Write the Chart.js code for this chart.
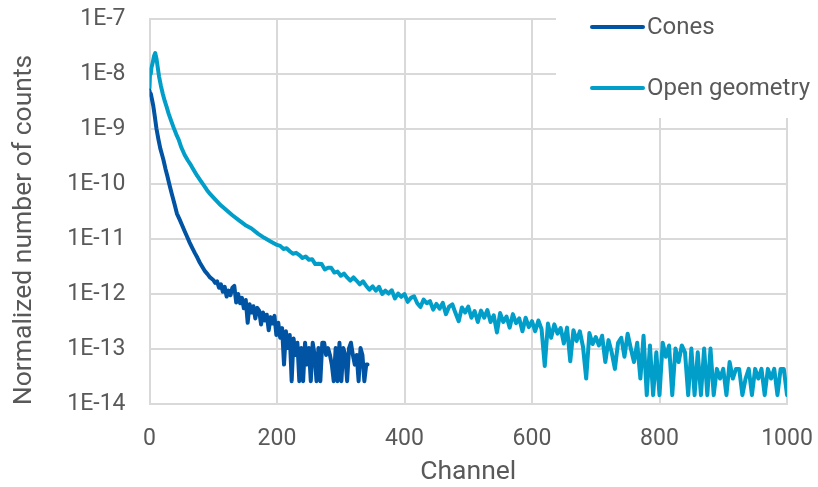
<!DOCTYPE html>
<html>
<head>
<meta charset="utf-8">
<script src="https://cdn.jsdelivr.net/npm/chart.js@4.4.1/dist/chart.umd.min.js"></script>
<style>
  html, body { margin: 0; padding: 0; background: #fff; }
  #wrap { width: 818px; height: 487px; }
</style>
</head>
<body>
<div id="wrap"><canvas id="countsChart" width="818" height="487"></canvas></div>
<script>
// Spectra, normalized counts per channel
const coneChannels = [
  0, 1, 2, 4, 6, 8, 11, 14, 17, 20, 22, 25, 28, 31, 35, 39, 43, 47, 51, 55,
  59, 63, 67, 71, 75, 79, 83, 87, 91, 95, 100, 103, 106, 109, 112, 115, 118, 121, 124, 127,
  130, 133, 136, 139, 142, 145, 148, 151, 154, 157, 160, 163, 166, 169, 172, 175, 178, 181, 184, 187,
  190, 193, 196, 199, 202, 205, 208, 211, 214, 217, 220, 223, 226, 229, 232, 235, 238, 241, 244, 247,
  250, 253, 256, 259, 262, 265, 268, 271, 274, 277, 280, 283, 286, 289, 292, 295, 298, 301, 304, 307,
  310, 313, 316, 319, 322, 325, 328, 331, 334, 337, 340, 342
];
const coneCounts = [
  5.0e-9, 4.2e-9, 4.4e-9, 3.4e-9, 2.6e-9, 1.8e-9, 1.0e-9, 6.5e-10, 4.4e-10, 3.3e-10,
  2.7e-10, 1.9e-10, 1.4e-10, 1.0e-10, 6.6e-11, 4.4e-11, 2.9e-11, 2.3e-11, 1.8e-11, 1.4e-11,
  1.1e-11, 8.6e-12, 6.9e-12, 5.6e-12, 4.6e-12, 3.7e-12, 3.1e-12, 2.6e-12, 2.3e-12, 2.0e-12,
  1.8e-12, 1.6e-12, 1.7e-12, 1.3e-12, 1.5e-12, 1.1e-12, 1.35e-12, 9.0e-13, 1.15e-12, 9.5e-13,
  1.3e-12, 1.4e-12, 7.0e-13, 1.0e-12, 6.8e-13, 8.5e-13, 5.5e-13, 7.8e-13, 3.0e-13, 6.5e-13,
  4.6e-13, 6.0e-13, 3.6e-13, 5.6e-13, 5.0e-13, 2.8e-13, 4.6e-13, 3.3e-13, 4.2e-13, 2.2e-13,
  3.8e-13, 2.9e-13, 4.0e-13, 1.8e-13, 3.0e-13, 1.6e-13, 2.4e-13, 5.2e-14, 2.1e-13, 1.04e-13,
  1.8e-13, 2.6e-14, 1.56e-13, 7.8e-14, 1.3e-13, 2.6e-14, 1.04e-13, 2.6e-14, 1.3e-13, 5.2e-14,
  1.04e-13, 2.6e-14, 1.3e-13, 7.8e-14, 2.6e-14, 1.04e-13, 2.6e-14, 1.3e-13, 1.3e-13, 7.8e-14,
  1.04e-13, 7.8e-14, 5.2e-14, 2.6e-14, 1.04e-13, 2.6e-14, 1.3e-13, 2.6e-14, 1.04e-13, 7.8e-14,
  2.6e-14, 1.04e-13, 1.3e-13, 7.8e-14, 5.2e-14, 7.8e-14, 2.6e-14, 1.04e-13, 7.8e-14, 2.6e-14,
  5.2e-14, 5.2e-14
];

const openChannels = [
  0, 1, 2, 3, 5, 7, 9, 11, 13, 15, 18, 21, 24, 27, 30, 34, 38, 42, 46, 50,
  55, 60, 65, 70, 75, 80, 85, 90, 95, 100, 110, 120, 130, 140, 150, 160, 170, 180, 190, 200,
  205, 210, 215, 220, 225, 230, 235, 240, 245, 250, 255, 260, 265, 270, 275, 280, 285, 290, 295, 300,
  305, 310, 315, 320, 325, 330, 335, 340, 345, 350, 355, 360, 365, 370, 375, 380, 385, 390, 395, 400,
  405, 410, 415, 420, 425, 430, 435, 440, 445, 450, 455, 460, 465, 470, 475, 480, 485, 490, 495, 500,
  505, 510, 515, 520, 525, 530, 535, 540, 545, 550, 555, 560, 565, 570, 575, 580, 585, 590, 595, 600,
  605, 610, 615, 620, 625, 630, 635, 640, 645, 650, 655, 660, 665, 670, 675, 680, 685, 690, 695, 700,
  705, 710, 715, 720, 725, 730, 735, 740, 745, 750, 755, 760, 765, 770, 775, 780, 785, 790, 795, 800,
  805, 810, 815, 820, 825, 830, 835, 840, 845, 850, 855, 860, 865, 870, 875, 880, 885, 890, 895, 900,
  905, 910, 915, 920, 925, 930, 935, 940, 945, 950, 955, 960, 965, 970, 975, 980, 985, 990, 995, 1000
];
const openCounts = [
  5.5e-9, 1.2e-8, 1.0e-8, 1.3e-8, 1.6e-8, 2.1e-8, 2.4e-8, 1.9e-8, 1.3e-8, 9.0e-9,
  6.0e-9, 4.3e-9, 3.2e-9, 2.5e-9, 1.9e-9, 1.4e-9, 1.05e-9, 8.0e-10, 6.3e-10, 4.6e-10,
  3.4e-10, 2.7e-10, 2.2e-10, 1.75e-10, 1.4e-10, 1.15e-10, 9.5e-11, 7.8e-11, 6.6e-11, 5.7e-11,
  4.3e-11, 3.4e-11, 2.7e-11, 2.2e-11, 1.8e-11, 1.55e-11, 1.25e-11, 1.05e-11, 9.0e-12, 7.8e-12,
  7.5e-12, 6.6e-12, 6.8e-12, 6.0e-12, 5.4e-12, 5.6e-12, 5.1e-12, 4.5e-12, 4.8e-12, 4.2e-12,
  4.3e-12, 3.5e-12, 3.55e-12, 3.5e-12, 2.8e-12, 3.0e-12, 3.0e-12, 2.45e-12, 2.55e-12, 2.15e-12,
  2.35e-12, 2.0e-12, 1.75e-12, 2.0e-12, 1.74e-12, 1.5e-12, 1.7e-12, 1.4e-12, 1.2e-12, 1.38e-12,
  1.15e-12, 1.35e-12, 1.0e-12, 1.15e-12, 1.02e-12, 1.17e-12, 8.3e-13, 1.02e-12, 8.9e-13, 1.0e-12,
  7.2e-13, 8.5e-13, 9.1e-13, 6.8e-13, 5.8e-13, 7.9e-13, 6.8e-13, 7.4e-13, 5.2e-13, 6.6e-13,
  5.4e-13, 6.9e-13, 4.3e-13, 5.9e-13, 6.5e-13, 4.5e-13, 3.2e-13, 5.7e-13, 4.6e-13, 5.9e-13,
  3.7e-13, 4.9e-13, 3.1e-13, 5.0e-13, 3.7e-13, 5.1e-13, 3.1e-13, 4.1e-13, 2.0e-13, 4.5e-13,
  3.1e-13, 3.9e-13, 2.45e-13, 4.3e-13, 2.95e-13, 3.6e-13, 2.1e-13, 3.7e-13, 2.5e-13, 3.2e-13,
  2.1e-13, 3.3e-13, 2.3e-13, 4.9e-14, 2.9e-13, 1.6e-13, 2.8e-13, 1.9e-13, 2.4e-13, 1.26e-13,
  2.45e-13, 6.0e-14, 2.2e-13, 1.4e-13, 2.1e-13, 1.1e-13, 2.9e-14, 1.95e-13, 1.23e-13, 1.65e-13,
  1.16e-13, 1.74e-13, 5.8e-14, 1.45e-13, 8.7e-14, 4.35e-14, 1.3e-13, 1.6e-13, 7.25e-14, 1.89e-13,
  1.02e-13, 5.8e-14, 1.3e-13, 2.9e-14, 1.74e-13, 1.45e-14, 1.16e-13, 1.45e-14, 8.7e-14, 1.45e-14,
  1.3e-13, 7.25e-14, 1.16e-13, 1.45e-14, 1.02e-13, 5.8e-14, 1.16e-13, 8.7e-14, 1.45e-14, 1.02e-13,
  1.45e-14, 8.7e-14, 1.45e-14, 1.02e-13, 1.45e-14, 1.02e-13, 1.45e-14, 4.35e-14, 2.9e-14, 4.35e-14,
  1.45e-14, 5.8e-14, 2.9e-14, 4.35e-14, 4.35e-14, 1.45e-14, 2.9e-14, 4.35e-14, 1.45e-14, 4.35e-14,
  2.9e-14, 4.35e-14, 1.45e-14, 4.35e-14, 2.9e-14, 4.35e-14, 1.45e-14, 4.35e-14, 4.35e-14, 1.45e-14
];

const channelTicks = [0, 200, 400, 600, 800, 1000];
const countTicks = [1e-14, 1e-13, 1e-12, 1e-11, 1e-10, 1e-9, 1e-8, 1e-7];
const countTickLabels = ['1E-14', '1E-13', '1E-12', '1E-11', '1E-10', '1E-9', '1E-8', '1E-7'];

const seriesNames = ['Cones', 'Open geometry'];
const seriesColors = ['#0054a3', '#009ec9'];

const TEXT = '#595959';
const GRID = '#d9d9d9';
const FONT = 'Roboto, "Noto Sans", sans-serif';

const toPoints = (xs, ys) => xs.map((x, i) => ({ x: x, y: ys[i] }));

// keep the plot rectangle fixed: no extra room for label overhang
const noOverhang = (scale) => {
  scale.paddingTop = 0;
  scale.paddingBottom = 0;
  scale.paddingLeft = 0;
  scale.paddingRight = 0;
};

// axis titles + legend drawn on top of the chart area
const overlayPlugin = {
  id: 'overlay',
  afterDraw(chart) {
    const ctx = chart.ctx;
    const area = chart.chartArea;
    ctx.save();
    ctx.fillStyle = TEXT;
    ctx.font = '26.5px ' + FONT;
    ctx.textAlign = 'center';
    ctx.textBaseline = 'middle';
    ctx.fillText('Channel', (area.left + area.right) / 2, 472);

    ctx.translate(24, 230);
    ctx.rotate(-Math.PI / 2);
    ctx.fillText('Normalized number of counts', 0, 0);
    ctx.restore();

    // legend box sits over the top-right of the plot
    ctx.save();
    ctx.fillStyle = '#fff';
    ctx.fillRect(556, 0, 262, 118);
    ctx.font = '24px ' + FONT;
    ctx.textBaseline = 'middle';
    ctx.textAlign = 'left';
    ctx.lineWidth = 4;
    ctx.lineCap = 'round';
    chart.data.datasets.forEach((ds, i) => {
      const y = 27 + i * 61;
      ctx.strokeStyle = ds.borderColor;
      ctx.beginPath();
      ctx.moveTo(592, y);
      ctx.lineTo(643, y);
      ctx.stroke();
      ctx.fillStyle = TEXT;
      ctx.fillText(ds.label, 647, y + 1);
    });
    ctx.restore();
  }
};

new Chart(document.getElementById('countsChart'), {
  type: 'line',
  data: {
    datasets: [
      {
        label: seriesNames[0],
        data: toPoints(coneChannels, coneCounts),
        borderColor: seriesColors[0],
        borderWidth: 4,
        pointRadius: 0,
        tension: 0,
        borderJoinStyle: 'round',
        borderCapStyle: 'round'
      },
      {
        label: seriesNames[1],
        data: toPoints(openChannels, openCounts),
        borderColor: seriesColors[1],
        borderWidth: 4,
        pointRadius: 0,
        tension: 0,
        borderJoinStyle: 'round',
        borderCapStyle: 'round'
      }
    ]
  },
  options: {
    responsive: false,
    animation: false,
    layout: { padding: { top: 19, right: 31, left: 0, bottom: 0 } },
    plugins: {
      legend: { display: false },
      tooltip: { enabled: false }
    },
    scales: {
      x: {
        type: 'linear',
        min: 0,
        max: 1000,
        afterBuildTicks: (scale) => { scale.ticks = channelTicks.map(v => ({ value: v })); },
        afterFit: (scale) => { scale.height = 83; noOverhang(scale); },
        grid: { color: GRID, lineWidth: 2, drawTicks: false },
        border: { color: GRID, width: 2 },
        ticks: {
          color: TEXT,
          font: { family: FONT, size: 23 },
          padding: 21,
          maxRotation: 0,
          callback: (value) => String(value)
        }
      },
      y: {
        type: 'logarithmic',
        min: 1e-14,
        max: 1e-7,
        afterBuildTicks: (scale) => { scale.ticks = countTicks.map(v => ({ value: v })); },
        afterFit: (scale) => { scale.width = 149.5; noOverhang(scale); },
        grid: { color: GRID, lineWidth: 2, drawTicks: false },
        border: { color: GRID, width: 2 },
        ticks: {
          color: TEXT,
          font: { family: FONT, size: 23 },
          padding: 24,
          callback: (value) => {
            const i = countTicks.findIndex(t => Math.abs(Math.log10(t) - Math.log10(value)) < 1e-6);
            return i >= 0 ? countTickLabels[i] : '';
          }
        }
      }
    }
  },
  plugins: [overlayPlugin]
});
</script>
</body>
</html>
